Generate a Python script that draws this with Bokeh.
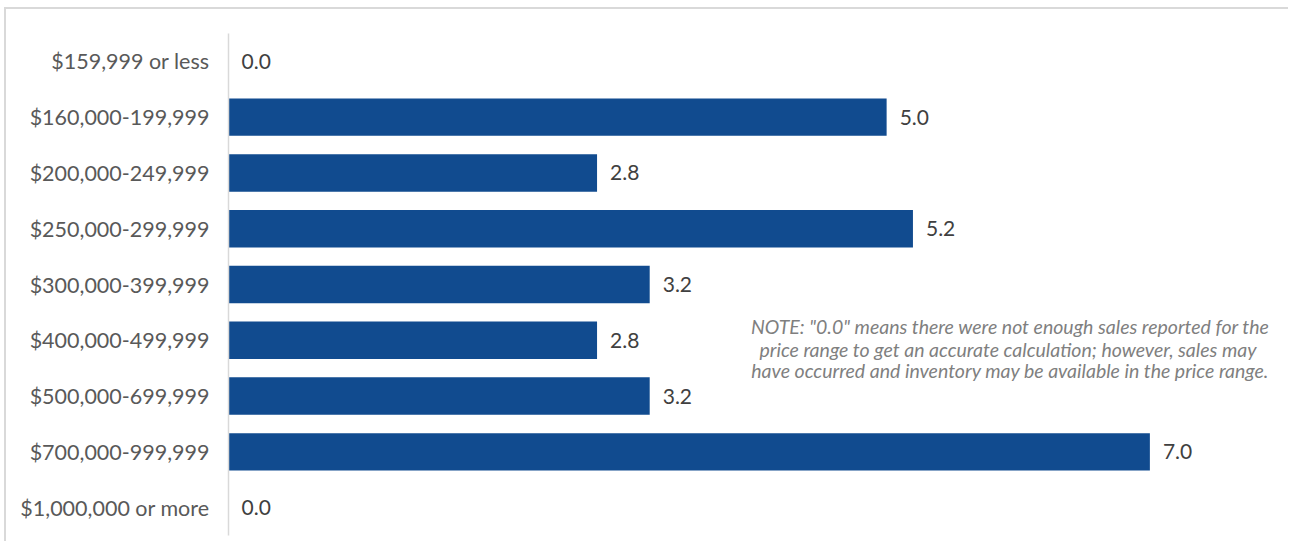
from bokeh.plotting import figure
from bokeh.models import ColumnDataSource, FactorRange, Range1d, Label
from bokeh.core.properties import value
from bokeh.embed import file_html
from bokeh.resources import INLINE

categories = ["$159,999 or less", "$160,000-199,999", "$200,000-249,999",
              "$250,000-299,999", "$300,000-399,999", "$400,000-499,999",
              "$500,000-699,999", "$700,000-999,999", "$1,000,000 or more"]
values = [0.0, 5.0, 2.8, 5.2, 3.2, 2.8, 3.2, 7.0, 0.0]
labels = ["%.1f" % v for v in values]
note_lines = ['NOTE: "0.0" means there were not enough sales reported for the',
              'price range to get an accurate calculation;  however, sales may',
              'have occurred and inventory may be available in the price range.']

src = ColumnDataSource(dict(cat=categories, val=values, lab=labels))

bg = ("linear-gradient(#d9d9d9,#d9d9d9) 4px 7px / calc(100% - 4px) 2px no-repeat, "
      "linear-gradient(#d9d9d9,#d9d9d9) 4px 7px / 2px calc(100% - 7px) no-repeat, white")

p = figure(width=1288, height=541, output_backend="svg", toolbar_location=None,
           y_range=FactorRange(factors=list(reversed(categories)), range_padding=0),
           x_range=Range1d(0, 8),
           min_border_left=10, min_border_right=7, min_border_top=33, min_border_bottom=6,
           styles={"background": bg})

p.hbar(y="cat", right="val", left=0, height=0.67, source=src,
       fill_color="#114b8f", line_color=None)
p.text(x="val", y="cat", text="lab", source=src, x_offset=13,
       text_baseline="middle", text_align="left", text_font=value("Lato"),
       text_font_size="21px", text_color="#404040")

note_y = [3.75, 3.34, 2.95]
for line, yy in zip(note_lines, note_y):
    p.add_layout(Label(x=5.94, y=yy, x_units="data", y_units="data",
                       text=line, text_align="center", text_baseline="middle",
                       text_font="Lato", text_font_style="italic",
                       text_font_size="19.5px", text_color="#7f7f7f"))

p.xaxis.visible = False
p.xgrid.visible = False
p.ygrid.visible = False
p.outline_line_color = None
p.yaxis.axis_line_color = "#d9d9d9"
p.yaxis.axis_line_width = 1.5
p.yaxis.major_tick_line_color = None
p.yaxis.minor_tick_line_color = None
p.yaxis.major_label_standoff = 13
p.yaxis.major_label_text_font = "Lato"
p.yaxis.major_label_text_font_size = "21.5px"
p.yaxis.major_label_text_color = "#595959"
p.yaxis.axis_label = " "
p.yaxis.axis_label_text_font_size = "2px"
p.yaxis.axis_label_standoff = 12
p.background_fill_color = "white"
p.border_fill_color = None

open("out.html", "w").write(file_html(p, INLINE))
